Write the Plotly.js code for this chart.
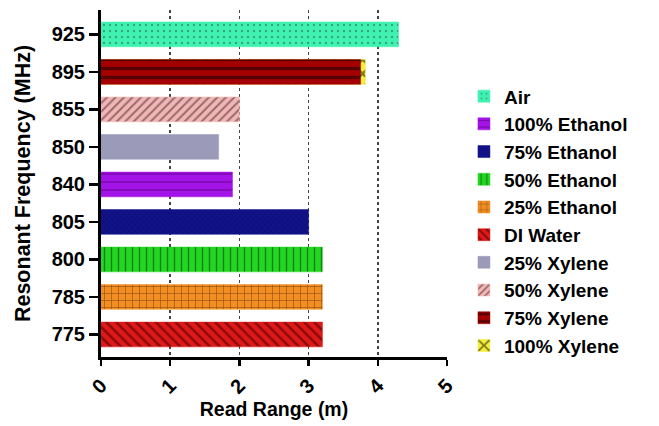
<!DOCTYPE html>
<html>
<head>
<meta charset="utf-8">
<script src="https://cdn.plot.ly/plotly-3.0.1.min.js"></script>
<style>html,body{margin:0;padding:0;background:#fff}#chart{width:659px;height:426px}</style>
</head>
<body>
<div id="chart"></div>
<script>
// Data
var categoryOrder = ["775", "785", "800", "805", "840", "850", "855", "895", "925"];
var seriesNames = ["Air", "100% Ethanol", "75% Ethanol", "50% Ethanol", "25% Ethanol",
                   "DI Water", "25% Xylene", "50% Xylene", "75% Xylene", "100% Xylene"];
var seriesFreq = ["925", "840", "805", "800", "785", "775", "850", "855", "895", "895"];
var seriesRange = [4.3, 1.9, 3.0, 3.2, 3.2, 3.2, 1.7, 2.0, 3.75, 3.82];
var xTicks = [0, 1, 2, 3, 4, 5];

// Styles
var styles = {
  "Air":          {bg: "#3ff2b2", fg: "#24594a", shape: ".",  size: 6, sol: 0.12},
  "100% Ethanol": {bg: "#a312e6", fg: "#3a0050", shape: "-",  size: 8, sol: 0.15},
  "75% Ethanol":  {bg: "#12138c", fg: "#02023e", shape: "x",  size: 4, sol: 0.25},
  "50% Ethanol":  {bg: "#22d622", fg: "#0a2a0a", shape: "|",  size: 7, sol: 0.2},
  "25% Ethanol":  {bg: "#f38f22", fg: "#2a1000", shape: "+",  size: 7, sol: 0.17},
  "DI Water":     {bg: "#e01818", fg: "#300000", shape: "\\", size: 7, sol: 0.35},
  "25% Xylene":   {bg: "#9b9bb9", fg: "#9b9bb9", shape: "",   size: 8, sol: 0.3},
  "50% Xylene":   {bg: "#f3b6b6", fg: "#3a2020", shape: "/",  size: 6, sol: 0.33},
  "75% Xylene":   {bg: "#a40000", fg: "#080000", shape: "-",  size: 9, sol: 0.36},
  "100% Xylene":  {bg: "#f5ee3a", fg: "#000000", shape: "x",  size: 10, sol: 0.4}
};
// legend order follows seriesNames; draw 100% Xylene beneath 75% Xylene
var drawOrder = [0, 1, 2, 3, 4, 5, 6, 7, 9, 8];

var traces = drawOrder.map(function (i) {
  var n = seriesNames[i], s = styles[n];
  return {
    type: "bar",
    orientation: "h",
    name: n,
    legendrank: i + 1,
    x: [seriesRange[i]],
    y: [seriesFreq[i]],
    width: 0.66,
    marker: {
      color: s.bg,
      line: {color: s.bg, width: 0.5},
      pattern: {shape: s.shape, fgcolor: s.fg, bgcolor: s.bg, size: s.size, solidity: s.sol, fillmode: "overlay"}
    },
    hoverinfo: "x+y+name"
  };
});

var fontFam = "Liberation Sans, Arial, sans-serif";
var layout = {
  width: 659, height: 426,
  margin: {l: 101, r: 212, t: 10, b: 69, pad: 0},
  paper_bgcolor: "#ffffff", plot_bgcolor: "#ffffff",
  barmode: "overlay",
  font: {family: fontFam, color: "#000", size: 19, weight: "bold"},
  xaxis: {
    range: [0, 5], tickvals: xTicks, ticktext: xTicks.map(String),
    tickangle: -45, ticks: "outside", ticklen: 6, tickwidth: 2.5, tickcolor: "#000",
    showline: true, linecolor: "#000", linewidth: 3,
    showgrid: true, gridcolor: "#444", griddash: "dot", gridwidth: 1.5,
    zeroline: false,
    tickfont: {family: fontFam, size: 20, weight: "bold"},
    title: {text: "Read Range (m)", font: {family: fontFam, size: 19.5, weight: "bold"}, standoff: 6}
  },
  yaxis: {
    type: "category", categoryorder: "array", categoryarray: categoryOrder,
    range: [-0.6, 8.65],
    ticks: "outside", ticklen: 9, tickwidth: 2.5, tickcolor: "#000",
    showline: true, linecolor: "#000", linewidth: 3,
    showgrid: false, zeroline: false,
    tickfont: {family: fontFam, size: 20, weight: "bold"},
    title: {text: "Resonant Frequency (MHz)", font: {family: fontFam, size: 21.5, weight: "bold"}, standoff: 16}
  },
  legend: {
    x: 1.049, y: 0.806, xanchor: "left", yanchor: "top",
    font: {family: fontFam, size: 19, weight: "bold"},
    traceorder: "normal", tracegroupgap: 0, itemwidth: 30,
    bgcolor: "rgba(0,0,0,0)"
  },
  showlegend: true
};

Plotly.newPlot("chart", traces, layout, {displayModeBar: false, staticPlot: true});
</script>
</body>
</html>
